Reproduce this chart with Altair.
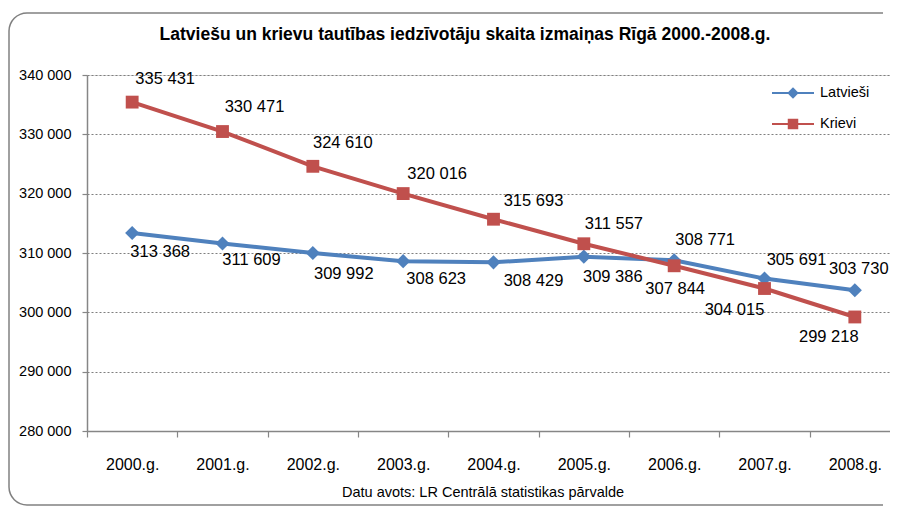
import math
import altair as alt
import pandas as pd

years = ["2000.g.", "2001.g.", "2002.g.", "2003.g.", "2004.g.", "2005.g.", "2006.g.", "2007.g.", "2008.g."]
latviesi = [313368, 311609, 309992, 308623, 308429, 309386, 308771, 305691, 303730]
krievi = [335431, 330471, 324610, 320016, 315693, 311557, 307844, 304015, 299218]
series_names = ["Latvieši", "Krievi"]
colors = ["#4F81BD", "#C0504D"]
y_ticks = [280000, 290000, 300000, 310000, 320000, 330000, 340000]

title_text = "Latviešu un krievu tautības iedzīvotāju skaita izmaiņas Rīgā 2000.-2008.g."
source_text = "Datu avots: LR Centrālā statistikas pārvalde"

# label offsets (pixels) as placed in the original chart
lat_dx = [28, 29, 31, 33, 40, 29, 31, 32, 4]
lat_dy = [19, 17, 21, 18, 19, 20, -20, -19, -21]
kri_dx = [33, 32, 30, 34, 40, 30, 1, -30, -26]
kri_dy = [-23, -25, -23, -20, -18, -20, 23, 21, 20]

FONT = "Liberation Sans"
FRAME = "#808080"

rows = []
for i, y in enumerate(years):
    rows.append({"year": y, "series": series_names[0], "value": latviesi[i], "dx": lat_dx[i], "dy": lat_dy[i]})
for i, y in enumerate(years):
    rows.append({"year": y, "series": series_names[1], "value": krievi[i], "dx": kri_dx[i], "dy": kri_dy[i]})
df = pd.DataFrame(rows)

W, H = 803, 356

x_enc = alt.X("year:N", sort=years, scale=alt.Scale(range=[0, 813]),
              axis=alt.Axis(title=None, labelAngle=0, tickBand="extent", tickSize=6,
                            labelPadding=19, labelFontSize=16, labelFont=FONT, labelColor="#000000",
                            domainColor="#868686", domainWidth=1.5, tickColor="#868686", tickWidth=1.2,
                            grid=False))
y_enc = alt.Y("value:Q", scale=alt.Scale(domain=[280000, 340000], nice=False, zero=False),
              axis=alt.Axis(title=None, values=y_ticks,
                            labelExpr="replace(format(datum.value, ','), ',', ' ')",
                            labelFontSize=14.5, labelFont=FONT, labelColor="#000000", labelPadding=11,
                            tickSize=5, tickColor="#868686", tickWidth=1.2,
                            domainColor="#868686", domainWidth=1.5,
                            grid=True, gridDash=[2, 2], gridColor="#7f7f7f", gridWidth=1))

base = alt.Chart(df)
one_row = pd.DataFrame({"a": [0]})

# outer rounded frame (open on the right, as the original is cut at the page edge)
FL, FT, FB, R = -78, -62, 430, 18
FR = 796
frame = [
    alt.Chart(one_row).mark_rule(color=FRAME, strokeWidth=1.5).encode(
        x=alt.value(FL), y=alt.value(FT + R), y2=alt.value(FB - R)),
    alt.Chart(one_row).mark_rule(color=FRAME, strokeWidth=1.5).encode(
        x=alt.value(FL + R), x2=alt.value(FR), y=alt.value(FT)),
    alt.Chart(one_row).mark_rule(color=FRAME, strokeWidth=1.5).encode(
        x=alt.value(FL + R), x2=alt.value(FR), y=alt.value(FB)),
    alt.Chart(one_row).mark_arc(color=FRAME, radius=R + 0.75, radius2=R - 0.75,
                                theta=1.5 * math.pi, theta2=2 * math.pi).encode(
        x=alt.value(FL + R), y=alt.value(FT + R)),
    alt.Chart(one_row).mark_arc(color=FRAME, radius=R + 0.75, radius2=R - 0.75,
                                theta=math.pi, theta2=1.5 * math.pi).encode(
        x=alt.value(FL + R), y=alt.value(FB - R)),
]

lat_df = df[df.series == series_names[0]]
kri_df = df[df.series == series_names[1]]

lat_line = alt.Chart(lat_df).mark_line(strokeWidth=4, color=colors[0]).encode(
    x=alt.X("year:N", sort=years), y="value:Q")
kri_line = alt.Chart(kri_df).mark_line(strokeWidth=4, color=colors[1]).encode(
    x=alt.X("year:N", sort=years), y="value:Q")

lat_pts = alt.Chart(lat_df).mark_point(
    shape="diamond", filled=True, size=200, opacity=1, color=colors[0]
).encode(x=alt.X("year:N", sort=years), y="value:Q")
kri_pts = alt.Chart(kri_df).mark_point(
    shape="square", filled=True, size=165, opacity=1, color=colors[1]
).encode(x=alt.X("year:N", sort=years), y="value:Q")

labels = base.transform_calculate(
    lbl="replace(format(datum.value, ','), ',', ' ')"
).mark_text(fontSize=16.5, font=FONT, color="#000000", baseline="middle", align="center",
            dx=alt.expr("datum.dx"), dy=alt.expr("datum.dy")).encode(
    x=alt.X("year:N", sort=years), y="value:Q", text="lbl:N")

# legend
leg_layers = []
leg_y = [18, 49]
for i, name in enumerate(series_names):
    one = alt.Chart(pd.DataFrame({"name": [name]}))
    leg_layers.append(one.mark_rule(color=colors[i], strokeWidth=2).encode(
        x=alt.value(685), x2=alt.value(727), y=alt.value(leg_y[i])))
    leg_layers.append(one.mark_point(shape=["diamond", "square"][i], filled=True, opacity=1,
                                     size=[130, 110][i], color=colors[i]).encode(
        x=alt.value(706), y=alt.value(leg_y[i])))
    leg_layers.append(one.mark_text(align="left", baseline="middle", fontSize=14.5, font=FONT,
                                    color="#000000").encode(
        x=alt.value(733), y=alt.value(leg_y[i]), text="name:N"))

title = alt.Chart(pd.DataFrame({"t": [title_text]})).mark_text(
    fontSize=17.5, fontWeight="bold", font=FONT, color="#000000", align="center", baseline="middle"
).encode(x=alt.value(378), y=alt.value(-40), text="t:N")

source = alt.Chart(pd.DataFrame({"t": [source_text]})).mark_text(
    fontSize=14.5, font=FONT, color="#000000", align="center", baseline="middle"
).encode(x=alt.value(396), y=alt.value(418), text="t:N")

axes_layer = base.mark_line(opacity=0).encode(x=x_enc, y=y_enc)

chart = alt.layer(
    *frame, axes_layer, lat_line, kri_line, lat_pts, kri_pts, labels, title, source, *leg_layers
).properties(
    width=W, height=H,
    autosize=alt.AutoSizeParams(type="none"),
    padding={"left": 79, "top": 67, "right": 0, "bottom": 77},
).configure_view(stroke=None).configure(background="#ffffff")

chart.save("out.html", embed_options={"renderer": "svg", "actions": False})
